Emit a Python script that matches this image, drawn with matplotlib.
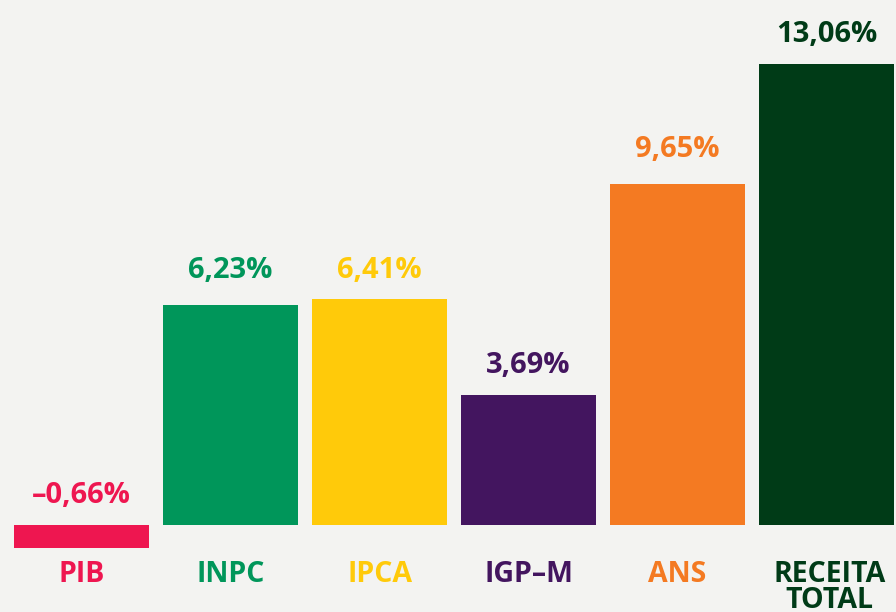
import matplotlib
matplotlib.use("Agg")
import matplotlib.pyplot as plt

categories = ["PIB", "INPC", "IPCA", "IGP–M", "ANS", "RECEITA\nTOTAL"]
values = [-0.66, 6.23, 6.41, 3.69, 9.65, 13.06]
value_labels = ["–0,66%", "6,23%", "6,41%", "3,69%", "9,65%", "13,06%"]
colors = ["#EE1650", "#00965A", "#FFCA0A", "#43155F", "#F47A22", "#003B17"]

# layout: gap (px) between each value label baseline and its bar top
label_gap_px = [22, 27, 21, 22, 27, 22]

BG = "#F3F3F1"
FONT = "Open Sans"

fig = plt.figure(figsize=(8.96, 6.12), dpi=100, facecolor=BG)
ax = fig.add_axes([0, 0, 1, 1])
ax.set_facecolor(BG)

x = list(range(len(categories)))
ax.bar(x, values, width=135 / 149, color=colors, zorder=2)

ax.set_xlim(-81.5 / 149, (896 - 81.5) / 149)
ppu = 35.3
ax.set_ylim(-87 / ppu, (612 - 87) / ppu)
ax.axis("off")

for xi, v, lab, c, g in zip(x, values, value_labels, colors, label_gap_px):
    top = max(v, 0)
    ax.annotate(lab, (xi, top), xytext=(0, g * 0.72), textcoords="offset points",
                ha="center", va="baseline", fontsize=21, fontweight="bold",
                color=c, family=FONT)

for xi, cat, c in zip(x, categories, colors):
    lines = cat.split("\n")
    for i, line in enumerate(lines):
        ax.annotate(line, (xi, 0), xytext=(2 if len(lines) > 1 else 0, -41 - i * 19.0),
                    textcoords="offset points",
                    ha="center", va="baseline", fontsize=20.5, fontweight="bold",
                    color=c, family=FONT)

fig.savefig("out.png", dpi=100, facecolor=BG)
